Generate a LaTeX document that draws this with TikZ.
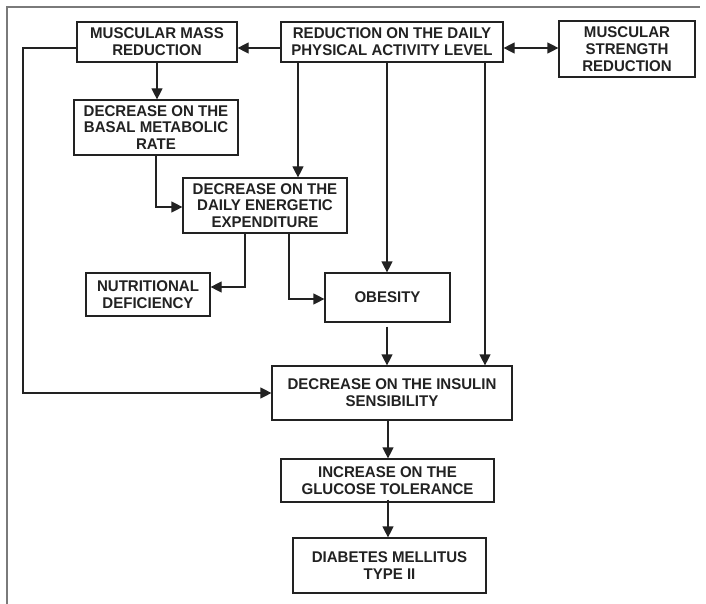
\documentclass[tikz,border=0pt]{standalone}
\usepackage{fontspec}
\setmainfont{Liberation Sans}
\newfontfamily\boxfont[FakeStretch=0.97]{Liberation Sans}
\usetikzlibrary{arrows.meta,calc}
\definecolor{ink}{HTML}{222222}
\definecolor{framegray}{HTML}{7A7A7A}
\begin{document}
\begin{tikzpicture}[x=1pt,y=1pt,
  box/.style={draw=ink,line width=1.2pt,fill=white,inner sep=0pt,align=center,
    font=\boxfont\fontsize{15.5}{16.8}\selectfont\bfseries,text=ink},
  conn/.style={draw=ink,line width=1.2pt,-{Triangle[length=11pt,width=11pt]}},
  bothconn/.style={draw=ink,line width=1.2pt,{Triangle[length=11pt,width=11pt]}-{Triangle[length=11pt,width=11pt]}}]
\useasboundingbox (0,0) rectangle (706,-604);
% frame
\draw[framegray,line width=1.8pt] (7,-604) -- (7,-7) -- (700,-7);
% nodes
\node[box,minimum width=160,minimum height=40] (mmr) at (157,-42) {MUSCULAR MASS\\REDUCTION};
\node[box,minimum width=222,minimum height=40] (rdpa) at (392,-42) {REDUCTION ON THE DAILY\\PHYSICAL ACTIVITY LEVEL};
\node[box,minimum width=136,minimum height=56] (msr) at (627,-49) {MUSCULAR\\STRENGTH\\REDUCTION};
\node[box,minimum width=164,minimum height=55] (dbmr) at (156,-127.5) {DECREASE ON THE\\BASAL METABOLIC\\RATE};
\node[box,minimum width=164,minimum height=55] (ddee) at (265,-205.5) {DECREASE ON THE\\DAILY ENERGETIC\\EXPENDITURE};
\node[box,minimum width=124,minimum height=43] (nutr) at (148,-294.5) {NUTRITIONAL\\DEFICIENCY};
\node[box,minimum width=125,minimum height=49] (obes) at (387.5,-297.5) {OBESITY};
\node[box,minimum width=240,minimum height=54] (dis) at (392,-393) {DECREASE ON THE INSULIN\\SENSIBILITY};
\node[box,minimum width=213,minimum height=43] (igt) at (387.5,-480.5) {INCREASE ON THE\\GLUCOSE TOLERANCE};
\node[box,minimum width=193,minimum height=55] (dm) at (389.5,-565.5) {DIABETES MELLITUS\\TYPE II};
% helper coordinates
\coordinate (mmrl) at (23,-48);
% connectors
\draw[conn] ([yshift=-6pt]rdpa.west) -- ([yshift=-6pt]mmr.east);
\draw[bothconn] ([yshift=-6pt]rdpa.east) -- ([yshift=-6pt]rdpa.east -| msr.west);
\draw[conn] (mmr.south) -- (mmr.south |- dbmr.north);
\draw[conn] (rdpa.south -| 298,0) -- (ddee.north -| 298,0);
\draw[conn] (dbmr.south) |- ([yshift=-1.5pt]ddee.west);
\draw[conn] (ddee.south -| 245,0) |- ([yshift=7.5pt]nutr.east);
\draw[conn] (ddee.south -| 289,0) |- ([yshift=-1.5pt]obes.west);
\draw[conn] (rdpa.south -| 387,0) -- (obes.north -| 387,0);
\draw[conn,shorten <=4pt] (obes.south -| 387,0) -- (dis.north -| 387,0);
\draw[conn] (rdpa.south -| 485,0) -- (dis.north -| 485,0);
\draw[conn] ([yshift=-6pt]mmr.west) -- (mmrl) |- (dis.west);
\draw[conn] (dis.south -| 388,0) -- (igt.north -| 388,0);
\draw[conn] ([yshift=3pt]igt.south -| 388,0) -- (dm.north -| 388,0);
\end{tikzpicture}
\end{document}
